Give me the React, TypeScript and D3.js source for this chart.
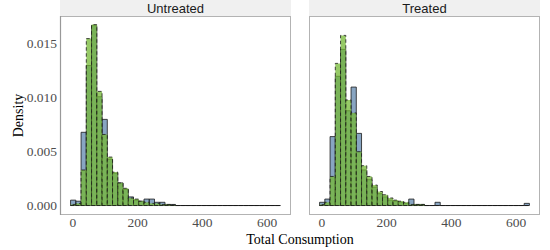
import * as d3 from 'd3'

// histogram bins shared by both facets
const binStart = -7.5
const binWidth = 16.225

const panels = ['Untreated', 'Treated']

// density per bin, blue group (solid outline)
const untreatedBlue = [
  0.0005, 0.0004, 0.0068, 0.0130, 0.0167, 0.0101, 0.0080, 0.0043, 0.0030, 0.0021,
  0.0015, 0.0008, 0.0005, 0.0004, 0.0006, 0.0006, 0.0003, 0.0003, 0.0001, 0.0001,
  0, 0, 0, 0, 0, 0, 0, 0, 0, 0,
  0, 0, 0, 0, 0, 0, 0, 0, 0, 0,
]
const treatedBlue = [
  0.0003, 0.0006, 0.0064, 0.0120, 0.0145, 0.0088, 0.0110, 0.0067, 0.0033, 0.0024,
  0.0017, 0.0011, 0.0008, 0.0005, 0.0004, 0.0003, 0.0002, 0.0006, 0.0001, 0.0001,
  0, 0, 0.0003, 0, 0, 0, 0, 0, 0, 0,
  0, 0, 0, 0, 0, 0, 0, 0, 0, 0.0002,
]
// density per bin, green group (dashed outline)
const untreatedGreen = [
  0.0001, 0.0002, 0.0033, 0.0155, 0.0168, 0.0106, 0.0066, 0.0045, 0.0031, 0.0021,
  0.0016, 0.0007, 0.0006, 0.0004, 0.0003, 0.0002, 0.0002, 0.0001, 0.0001, 0.00005,
  0, 0, 0, 0, 0, 0, 0, 0, 0, 0,
  0, 0, 0, 0, 0, 0, 0, 0, 0, 0,
]
const treatedGreen = [
  0.0001, 0.0003, 0.0027, 0.0132, 0.0158, 0.0098, 0.0086, 0.0050, 0.0037, 0.0027,
  0.0019, 0.0013, 0.0010, 0.0007, 0.0005, 0.0004, 0.0003, 0.0001, 0.0001, 0.0001,
  0, 0, 0, 0, 0, 0, 0, 0, 0, 0,
  0, 0, 0, 0, 0, 0, 0, 0, 0, 0,
]

const xTicks = [0, 200, 400, 600]
const yTicks = [0, 0.005, 0.01, 0.015]

const width = 550
const height = 250
const panelLefts = [60, 309]
const panelWidth = 231
const stripTop = 0
const panelTop = 16
const panelBottom = 215

const serif = '"Liberation Serif", "Times New Roman", serif'
const sans = '"Liberation Sans", Arial, sans-serif'

function Histogram({ values, x, y, fill, opacity, dashed }: {
  values: number[]
  x: d3.ScaleLinear<number, number>
  y: d3.ScaleLinear<number, number>
  fill: string
  opacity: number
  dashed: boolean
}) {
  return (
    <g>
      {values.map((v, i) => {
        const x0 = x(binStart + i * binWidth)
        const x1 = x(binStart + (i + 1) * binWidth)
        // a path, so that empty bins still draw their outline on the baseline
        const d = `M${x0},${y(0)}H${x1}V${y(v)}H${x0}Z`
        return (
          <path
            key={i}
            d={d}
            fill={fill}
            fillOpacity={opacity}
            stroke="#1a1a1a"
            strokeWidth={0.8}
            strokeDasharray={dashed ? '3.5,2.5' : undefined}
          />
        )
      })}
    </g>
  )
}

export default function App() {
  const y = d3.scaleLinear().domain([-0.00088, 0.0176]).range([panelBottom, panelTop])
  const series = [
    [untreatedBlue, untreatedGreen],
    [treatedBlue, treatedGreen],
  ]

  return (
    <svg width={width} height={height} style={{ position: 'absolute', left: 0, top: 0, background: '#fff' }}>
      {panels.map((name, p) => {
        const left = panelLefts[p]
        const x = d3.scaleLinear().domain([-40.2, 674.2]).range([left, left + panelWidth])
        return (
          <g key={name}>
            <rect x={left} y={stripTop} width={panelWidth} height={panelTop - stripTop} fill="#f0f0f0" />
            <text x={left + panelWidth / 2} y={12.5} textAnchor="middle" fontFamily={sans} fontSize={13} fill="#1a1a1a">
              {name}
            </text>
            <Histogram values={series[p][0]} x={x} y={y} fill="#4f7aa5" opacity={0.68} dashed={false} />
            <Histogram values={series[p][1]} x={x} y={y} fill="#74b834" opacity={0.75} dashed={true} />
            <rect x={left + 0.5} y={panelTop + 0.5} width={panelWidth - 1} height={panelBottom - panelTop - 1}
              fill="none" stroke="#b3b3b3" strokeWidth={1} />
            {xTicks.map(t => (
              <text key={t} x={x(t)} y={227} textAnchor="middle" fontFamily={serif} fontSize={13.5} fill="#4d4d4d">
                {t}
              </text>
            ))}
          </g>
        )
      })}
      <line x1={60.5} x2={60.5} y1={panelTop} y2={panelBottom} stroke="#999" strokeWidth={1.2} />
      {yTicks.map(t => (
        <text key={t} x={57} y={y(t) + 4.5} textAnchor="end" fontFamily={serif} fontSize={13.5} fill="#4d4d4d">
          {d3.format('.3f')(t)}
        </text>
      ))}
      <text transform={`translate(23,${(panelTop + panelBottom) / 2}) rotate(-90)`} textAnchor="middle"
        fontFamily={serif} fontSize={14} fill="#000">
        Density
      </text>
      <text x={300} y={244} textAnchor="middle" fontFamily={serif} fontSize={14} fill="#000">
        Total Consumption
      </text>
    </svg>
  )
}
